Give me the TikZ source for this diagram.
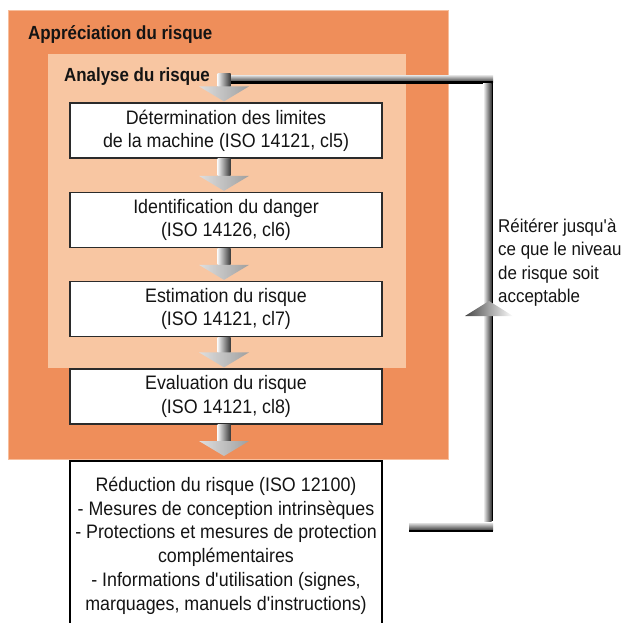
\documentclass[tikz,border=0pt]{standalone}
\usepackage{fontspec}
\setmainfont{Liberation Sans}[FakeStretch=0.915]
\newfontfamily\titlefont{Liberation Sans}[FakeStretch=0.89]
\usetikzlibrary{calc}
\definecolor{outerorange}{HTML}{EF8E5A}
\definecolor{innerorange}{HTML}{F8C6A2}
\definecolor{outeredge}{HTML}{F7BE9C}
\definecolor{boxline}{HTML}{2B2B2B}
\definecolor{txt}{HTML}{141414}
\tikzset{
  stepbox/.style={draw=boxline, line width=1.3pt, fill=white, minimum width=312pt,
    minimum height=55pt, inner sep=0pt, align=center, text=txt,
    font=\fontsize{19.5}{23.2}\selectfont},
  titletext/.style={anchor=base west, inner sep=0pt, text=txt,
    font=\titlefont\bfseries\fontsize{19}{23}\selectfont},
  shaftshade/.style={left color=gray!8, right color=gray!45!black},
  headshade/.style={left color=gray!25, right color=gray!75},
}
\newcommand\flowarrow[3]{%
  \shade[shaftshade] ($(#1.south)+(-8.5,0)$) rectangle ($(#2.north)+(4.5,-16-#3)$);
  \shade[headshade] ($(#2.north)+(-27,-16-#3)$) -- ($(#2.north)+(23,-16-#3)$)
     -- ($(#2.north)+(-2,-1-#3)$) -- cycle;}
\begin{document}
\begin{tikzpicture}[x=1pt,y=-1pt]
\useasboundingbox (0,0) rectangle (626,622);
% containers
\filldraw[fill=outerorange, draw=outeredge, line width=1pt] (8,10) rectangle (448,459);
\fill[innerorange] (48,54) rectangle (406,368);
\node[titletext] (appr) at (28,39) {Appréciation du risque};
\node[titletext] (anal) at (64,81) {Analyse du risque};
% steps
\node[stepbox] (b1) at (226,130.5) {Détermination des limites\\de la machine (ISO 14121, cl5)};
\node[stepbox] (b2) at (226,220) {Identification du danger\\(ISO 14126, cl6)};
\node[stepbox] (b3) at (226,309) {Estimation du risque\\(ISO 14121, cl7)};
\node[stepbox] (b4) at (226,396.5) {Evaluation du risque\\(ISO 14121, cl8)};
\node[anchor=north, minimum width=312pt, inner xsep=0pt, inner ysep=16pt, align=center,
  text=txt, font=\fontsize{19.5}{23.7}\selectfont] (red) at (226,461)
  {Réduction du risque (ISO 12100)\\- Mesures de conception intrinsèques\\- Protections et mesures de protection\\complémentaires\\- Informations d\textquotesingle utilisation (signes,\\marquages, manuels d\textquotesingle instructions)};
\draw[black, line width=2pt] ($(red.south west)+(0,20)$) -- (red.north west) -- (red.north east) -- ($(red.south east)+(0,20)$);
% loop back
\coordinate (j) at (224,73);
\coordinate (tr) at (493,75);
\coordinate (br) at (493,532);
\shade[top color=gray!20, bottom color=gray!45!black] ($(j)+(6.5,2)$) rectangle ($(tr)+(0,7)$);
\fill[black] ($(j)+(6.5,8)$) rectangle ($(tr)+(0,9)$);
\shade[left color=white, right color=gray!45!black] ($(tr)+(-10,8)$) rectangle ($(br)+(-1.5,-11)$);
\fill[black] ($(tr)+(-1.5,8)$) rectangle ($(br)+(0,-11)$);
\shade[left color=gray!55!black, right color=white] ($(tr)+(-28,241)$) -- ($(tr)+(20,241)$) -- ($(tr)+(-4,226)$) -- cycle;
\shade[top color=gray!25, bottom color=gray!50!black] ($(br)+(-84,-9)$) rectangle ($(br)+(0,-2)$);
\fill[black] ($(br)+(-84,-2)$) rectangle (br);
% down arrows
\shade[shaftshade] ($(j)+(-6.5,0)$) rectangle ($(b1.north)+(4.5,-16)$);
\shade[headshade] ($(b1.north)+(-27,-16)$) -- ($(b1.north)+(23,-16)$) -- ($(b1.north)+(-2,-1)$) -- cycle;
\flowarrow{b1}{b2}{0}
\flowarrow{b2}{b3}{0}
\flowarrow{b3}{b4}{0}
\flowarrow{b4}{red}{4}
\node[anchor=north west, inner sep=0pt, align=left, text=txt,
  font=\fontsize{18.5}{23.5}\selectfont] (iter) at (498,218.3)
  {Réitérer jusqu\textquotesingle à\\ce que le niveau\\de risque soit\\acceptable};
\end{tikzpicture}
\end{document}
